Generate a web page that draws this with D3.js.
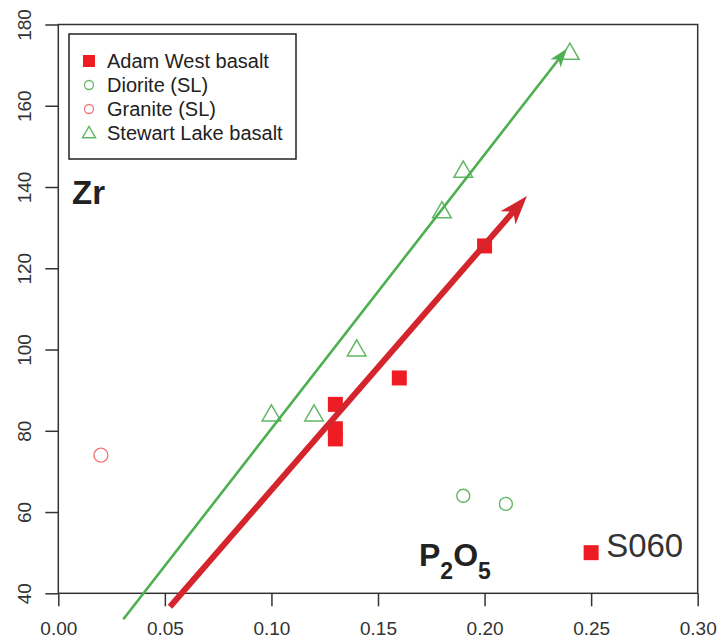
<!DOCTYPE html>
<html><head><meta charset="utf-8">
<script src="https://cdn.jsdelivr.net/npm/d3@7"></script>
<style>body{margin:0;background:#fff}svg{display:block}</style>
</head><body><svg id="c" width="719" height="640"></svg>
<script>
// ---- data ----
const xTicks = [0, 0.05, 0.10, 0.15, 0.20, 0.25, 0.30];
const yTicks = [40, 60, 80, 100, 120, 140, 160, 180];
const seriesNames = ["Adam West basalt", "Diorite (SL)", "Granite (SL)", "Stewart Lake basalt"];
const adamWestP2O5 = [0.13, 0.13, 0.13, 0.16, 0.20, 0.25];
const adamWestZr   = [86.5, 80.5, 78, 93, 125.5, 50];
const dioriteP2O5  = [0.19, 0.21];
const dioriteZr    = [64, 62];
const graniteP2O5  = [0.02];
const graniteZr    = [74];
const stewartP2O5  = [0.10, 0.12, 0.14, 0.18, 0.19, 0.24];
const stewartZr    = [84, 84, 100, 134, 144, 173];
const greenTrendP2O5 = [0.0305, 0.2387];
const greenTrendZr   = [33.6, 174.1];
const redTrendP2O5   = [0.0524, 0.2199];
const redTrendZr     = [36.7, 137.8];
const pointLabel = {text: "S060", p2o5: 0.25, zr: 50};

// ---- setup ----
const FONT = '"Liberation Sans", Arial, Helvetica, sans-serif';
const svg = d3.select("#c").style("font-family", FONT);
const x = d3.scaleLinear().domain([0, 0.30]).range([58.3, 697.7]);
const y = d3.scaleLinear().domain([40, 180]).range([593.3, 24.5]);
const AX = "#333";
const RED = "#ee1d24", RED_LINE = "#d4252c", GREEN = "#4caf50", GREEN_SYM = "#62b766", PINK = "#f07878";

// axes
const gx = svg.append("g").attr("transform", `translate(0,${y(40)})`)
  .call(d3.axisBottom(x).tickValues(xTicks).tickFormat(d3.format(".2f"))
    .tickSize(13).tickSizeOuter(0).tickPadding(15));
gx.attr("font-size", 19).attr("font-family", FONT);
gx.select(".domain").remove();
gx.selectAll("line").attr("stroke", AX).attr("stroke-width", 1.5);
gx.selectAll("text").attr("fill", AX);

const gy = svg.append("g").attr("transform", `translate(${x(0)},0)`)
  .call(d3.axisLeft(y).tickValues(yTicks).tickFormat(d3.format("d"))
    .tickSize(13).tickSizeOuter(0));
gy.attr("font-size", 19).attr("font-family", FONT);
gy.select(".domain").remove();
gy.selectAll("line").attr("stroke", AX).attr("stroke-width", 1.5);
gy.selectAll("text").attr("fill", AX)
  .attr("transform", "rotate(-90)").attr("x", 0).attr("y", -27)
  .attr("dy", null).attr("text-anchor", "middle");

// frame
svg.append("rect")
  .attr("x", x(0)).attr("y", y(180))
  .attr("width", x(0.30) - x(0)).attr("height", y(40) - y(180))
  .attr("fill", "none").attr("stroke", AX).attr("stroke-width", 1.5);

// ---- points ----
const sq = 15;
svg.append("g").selectAll("rect").data(d3.range(adamWestP2O5.length)).join("rect")
  .attr("x", i => x(adamWestP2O5[i]) - sq / 2).attr("y", i => y(adamWestZr[i]) - sq / 2)
  .attr("width", sq).attr("height", sq).attr("fill", RED);

svg.append("g").selectAll("circle").data(d3.range(dioriteP2O5.length)).join("circle")
  .attr("cx", i => x(dioriteP2O5[i])).attr("cy", i => y(dioriteZr[i])).attr("r", 6.5)
  .attr("fill", "none").attr("stroke", GREEN_SYM).attr("stroke-width", 1.4);

svg.append("g").selectAll("circle").data(d3.range(graniteP2O5.length)).join("circle")
  .attr("cx", i => x(graniteP2O5[i])).attr("cy", i => y(graniteZr[i])).attr("r", 7)
  .attr("fill", "none").attr("stroke", PINK).attr("stroke-width", 1.4);

const tri = d3.symbol(d3.symbolTriangle, 150);
svg.append("g").selectAll("path").data(d3.range(stewartP2O5.length)).join("path")
  .attr("d", tri).attr("transform", i => `translate(${x(stewartP2O5[i])},${y(stewartZr[i]) + 1})`)
  .attr("fill", "none").attr("stroke", GREEN_SYM).attr("stroke-width", 1.5);

// ---- trend arrows ----
function arrow(px, pz, color, width, L, W) {
  const x0 = x(px[0]), y0 = y(pz[0]), x1 = x(px[1]), y1 = y(pz[1]);
  const ang = Math.atan2(y1 - y0, x1 - x0);
  const back = L * 0.7;
  const len = Math.hypot(x1 - x0, y1 - y0);
  const xe = x0 + (x1 - x0) * (len - back) / len, ye = y0 + (y1 - y0) * (len - back) / len;
  svg.append("line").attr("x1", x0).attr("y1", y0).attr("x2", xe).attr("y2", ye)
    .attr("stroke", color).attr("stroke-width", width);
  svg.append("path")
    .attr("d", `M0,0L${-L},${-W / 2}L${-L * 0.72},0L${-L},${W / 2}Z`)
    .attr("transform", `translate(${x1},${y1}) rotate(${ang * 180 / Math.PI})`)
    .attr("fill", color);
}
arrow(greenTrendP2O5, greenTrendZr, GREEN, 2.6, 19, 13);
arrow(redTrendP2O5, redTrendZr, RED_LINE, 6, 29, 20);

// ---- annotations ----
svg.append("text").attr("x", 72).attr("y", 204).attr("font-size", 33).attr("font-weight", "bold")
  .attr("fill", "#222").text("Zr");

const p = svg.append("text").attr("x", 419).attr("y", 566).attr("font-weight", "bold").attr("fill", "#222");
p.append("tspan").attr("font-size", 32).text("P");
p.append("tspan").attr("font-size", 23).attr("dy", 13).text("2");
p.append("tspan").attr("font-size", 32).attr("dy", -13).text("O");
p.append("tspan").attr("font-size", 23).attr("dy", 13).text("5");

svg.append("text").attr("x", x(pointLabel.p2o5) + 15).attr("y", y(pointLabel.zr) + 4)
  .attr("font-size", 33).attr("fill", "#333").text(pointLabel.text);

// ---- legend ----
const lg = svg.append("g");
lg.append("rect").attr("x", 69).attr("y", 34).attr("width", 227).attr("height", 125)
  .attr("fill", "#fff").attr("stroke", "#222").attr("stroke-width", 1.5);
const rowY = i => 61 + i * 24;
const sx = 89;
lg.append("rect").attr("x", sx - 6).attr("y", rowY(0) - 6).attr("width", 12).attr("height", 12).attr("fill", RED);
lg.append("circle").attr("cx", sx).attr("cy", rowY(1)).attr("r", 4.5).attr("fill", "none").attr("stroke", GREEN_SYM).attr("stroke-width", 1.3);
lg.append("circle").attr("cx", sx).attr("cy", rowY(2)).attr("r", 4.5).attr("fill", "none").attr("stroke", PINK).attr("stroke-width", 1.3);
lg.append("path").attr("d", d3.symbol(d3.symbolTriangle, 75)).attr("transform", `translate(${sx},${rowY(3) + 1})`)
  .attr("fill", "none").attr("stroke", GREEN_SYM).attr("stroke-width", 1.4);
lg.selectAll("text").data(seriesNames).join("text")
  .attr("x", 107).attr("y", (d, i) => rowY(i) + 7).attr("font-size", 20).attr("fill", "#222").text(d => d);
</script></body></html>
